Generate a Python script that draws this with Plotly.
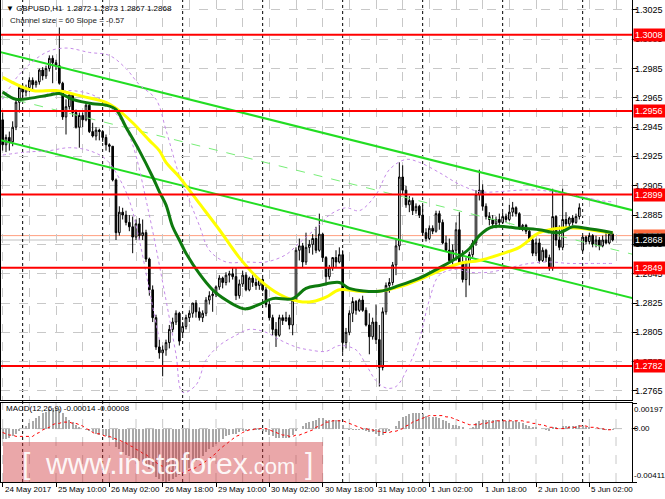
import plotly.graph_objects as go

# ---------------- data ----------------
opens = [1.2950,1.2933,1.2938,1.2935,1.2945,1.2962,1.2972,1.2969,1.2972,1.2977,1.2974,1.2976,1.2984,1.2980,1.2985,1.2992,1.2989,1.2987,1.2975,1.2952,
1.2959,1.2967,1.2955,1.2945,1.2953,1.2950,1.2960,1.2942,1.2939,1.2943,1.2942,1.2938,1.2933,1.2932,1.2909,1.2873,1.2887,1.2885,1.2880,1.2877,
1.2870,1.2879,1.2871,1.2873,1.2855,1.2834,1.2815,1.2795,1.2791,1.2793,1.2798,1.2807,1.2812,1.2818,1.2805,1.2809,1.2815,1.2818,1.2825,1.2819,
1.2815,1.2818,1.2827,1.2830,1.2831,1.2836,1.2842,1.2839,1.2844,1.2845,1.2843,1.2830,1.2838,1.2844,1.2834,1.2842,1.2839,1.2837,1.2841,1.2834,
1.2824,1.2815,1.2807,1.2803,1.2815,1.2813,1.2815,1.2810,1.2827,1.2861,1.2864,1.2853,1.2863,1.2865,1.2869,1.2861,1.2872,1.2856,1.2843,1.2849,
1.2856,1.2853,1.2858,1.2798,1.2805,1.2818,1.2826,1.2820,1.2827,1.2820,1.2810,1.2802,1.2812,1.2800,1.2781,1.2819,1.2837,1.2839,1.2851,1.2864,
1.2911,1.2902,1.2892,1.2895,1.2888,1.2891,1.2885,1.2873,1.2869,1.2876,1.2874,1.2886,1.2880,1.2866,1.2861,1.2854,1.2861,1.2875,1.2852,1.2841,
1.2853,1.2858,1.2866,1.2899,1.2902,1.2891,1.2884,1.2882,1.2879,1.2882,1.2880,1.2884,1.2882,1.2887,1.2890,1.2886,1.2876,1.2878,1.2874,1.2868,
1.2859,1.2866,1.2854,1.2861,1.2856,1.2849,1.2884,1.2868,1.2863,1.2882,1.2879,1.2883,1.2880,1.2884,1.2861,1.2870,1.2867,1.2871,1.2865,1.2868,
1.2864,1.2868,1.2866,1.2872]
highs = [1.2955,1.2940,1.2942,1.2949,1.2964,1.2974,1.2974,1.2974,1.2979,1.2979,1.2977,1.2985,1.2986,1.2987,1.2994,1.2994,1.2991,1.3013,1.2976,1.2964,
1.2968,1.2968,1.2957,1.2955,1.2955,1.2962,1.2961,1.2948,1.2945,1.2944,1.2943,1.2940,1.2934,1.2932,1.2910,1.2891,1.2890,1.2888,1.2885,1.2884,
1.2882,1.2883,1.2882,1.2875,1.2856,1.2837,1.2817,1.2800,1.2796,1.2800,1.2810,1.2815,1.2820,1.2819,1.2812,1.2817,1.2820,1.2825,1.2827,1.2822,
1.2820,1.2829,1.2833,1.2834,1.2837,1.2844,1.2843,1.2846,1.2847,1.2849,1.2849,1.2841,1.2847,1.2846,1.2843,1.2844,1.2842,1.2842,1.2842,1.2836,
1.2827,1.2817,1.2812,1.2817,1.2817,1.2819,1.2817,1.2828,1.2863,1.2869,1.2866,1.2873,1.2868,1.2872,1.2877,1.2886,1.2873,1.2857,1.2851,1.2856,
1.2861,1.2863,1.2861,1.2808,1.2820,1.2829,1.2827,1.2828,1.2830,1.2822,1.2818,1.2815,1.2824,1.2810,1.2822,1.2839,1.2842,1.2853,1.2868,1.2921,
1.2919,1.2905,1.2898,1.2897,1.2893,1.2892,1.2892,1.2876,1.2878,1.2878,1.2888,1.2888,1.2882,1.2871,1.2869,1.2865,1.2880,1.2887,1.2861,1.2856,
1.2860,1.2868,1.2902,1.2916,1.2906,1.2893,1.2887,1.2885,1.2884,1.2886,1.2887,1.2886,1.2892,1.2894,1.2891,1.2887,1.2879,1.2879,1.2876,1.2871,
1.2869,1.2869,1.2863,1.2862,1.2858,1.2903,1.2885,1.2878,1.2903,1.2887,1.2884,1.2885,1.2886,1.2893,1.2871,1.2871,1.2873,1.2872,1.2871,1.2870,
1.2871,1.2873,1.2873,1.2873]
lows = [1.2929,1.2928,1.2929,1.2932,1.2943,1.2955,1.2964,1.2966,1.2969,1.2970,1.2972,1.2974,1.2977,1.2978,1.2983,1.2975,1.2984,1.2974,1.2950,1.2940,
1.2957,1.2952,1.2944,1.2931,1.2945,1.2949,1.2941,1.2938,1.2936,1.2936,1.2935,1.2929,1.2928,1.2908,1.2868,1.2871,1.2882,1.2878,1.2874,1.2859,
1.2868,1.2868,1.2868,1.2853,1.2830,1.2812,1.2793,1.2787,1.2775,1.2789,1.2794,1.2805,1.2810,1.2796,1.2803,1.2807,1.2812,1.2815,1.2815,1.2813,
1.2812,1.2816,1.2824,1.2819,1.2829,1.2834,1.2835,1.2837,1.2839,1.2841,1.2827,1.2828,1.2836,1.2833,1.2833,1.2836,1.2834,1.2834,1.2833,1.2822,
1.2813,1.2803,1.2795,1.2802,1.2810,1.2812,1.2807,1.2803,1.2826,1.2854,1.2849,1.2851,1.2859,1.2858,1.2859,1.2860,1.2853,1.2837,1.2841,1.2847,
1.2849,1.2852,1.2791,1.2794,1.2803,1.2812,1.2817,1.2819,1.2819,1.2809,1.2790,1.2800,1.2797,1.2768,1.2779,1.2817,1.2832,1.2837,1.2844,1.2861,
1.2899,1.2890,1.2887,1.2885,1.2886,1.2883,1.2871,1.2867,1.2868,1.2872,1.2873,1.2875,1.2865,1.2860,1.2853,1.2851,1.2854,1.2851,1.2839,1.2829,
1.2837,1.2856,1.2864,1.2895,1.2888,1.2882,1.2878,1.2876,1.2876,1.2878,1.2879,1.2880,1.2881,1.2884,1.2884,1.2875,1.2874,1.2872,1.2867,1.2857,
1.2857,1.2852,1.2853,1.2853,1.2847,1.2847,1.2864,1.2861,1.2861,1.2876,1.2877,1.2878,1.2879,1.2882,1.2860,1.2865,1.2865,1.2863,1.2863,1.2861,
1.2863,1.2865,1.2865,1.2867]
closes = [1.2933,1.2938,1.2935,1.2945,1.2962,1.2972,1.2969,1.2972,1.2977,1.2974,1.2976,1.2984,1.2980,1.2985,1.2992,1.2989,1.2987,1.2975,1.2952,1.2959,
1.2967,1.2955,1.2945,1.2953,1.2950,1.2960,1.2942,1.2939,1.2943,1.2942,1.2938,1.2933,1.2932,1.2909,1.2873,1.2887,1.2885,1.2880,1.2877,1.2870,
1.2879,1.2871,1.2873,1.2855,1.2834,1.2815,1.2795,1.2791,1.2793,1.2798,1.2807,1.2812,1.2818,1.2799,1.2809,1.2815,1.2818,1.2825,1.2819,1.2815,
1.2818,1.2827,1.2830,1.2831,1.2836,1.2842,1.2839,1.2844,1.2845,1.2843,1.2830,1.2838,1.2844,1.2834,1.2842,1.2839,1.2837,1.2841,1.2834,1.2824,
1.2815,1.2807,1.2803,1.2815,1.2813,1.2815,1.2810,1.2827,1.2861,1.2864,1.2853,1.2863,1.2865,1.2869,1.2861,1.2872,1.2856,1.2843,1.2849,1.2856,
1.2853,1.2858,1.2798,1.2805,1.2818,1.2826,1.2820,1.2827,1.2820,1.2810,1.2802,1.2812,1.2800,1.2781,1.2819,1.2837,1.2839,1.2851,1.2864,1.2911,
1.2902,1.2892,1.2895,1.2888,1.2891,1.2885,1.2873,1.2869,1.2876,1.2874,1.2886,1.2880,1.2866,1.2861,1.2854,1.2861,1.2875,1.2852,1.2841,1.2853,
1.2858,1.2866,1.2899,1.2902,1.2891,1.2884,1.2882,1.2879,1.2882,1.2880,1.2884,1.2882,1.2887,1.2890,1.2886,1.2876,1.2878,1.2874,1.2868,1.2859,
1.2866,1.2854,1.2861,1.2856,1.2849,1.2884,1.2868,1.2863,1.2882,1.2879,1.2883,1.2880,1.2884,1.2890,1.2870,1.2867,1.2871,1.2865,1.2868,1.2864,
1.2868,1.2866,1.2872,1.2868]

# moving averages (bar index, price)
ma_yellow_idx = [0,9,16,24,31,34,39,44,47,49,53,56,59,65,71,77,83,89,93,97,101,107,113,119,125,131,137,143,149,155,161,167,173,179,183]
ma_yellow_val = [1.2979,1.2970,1.2970,1.2966,1.2962,1.2958,1.2948,1.2936,1.2929,1.2921,1.2911,1.2902,1.2893,1.2875,1.2856,1.2841,1.2831,1.2826,1.2826,1.2829,
1.2834,1.2833,1.2833,1.2836,1.2841,1.2847,1.2852,1.2854,1.2858,1.2863,1.2873,1.2876,1.2876,1.2874,1.2873]
ma_green_idx = [0,4,9,14,17,21,27,31,34,37,41,45,47,49,51,53,55,59,63,67,71,73,77,81,87,91,95,101,104,113,119,125,131,135,140,143,147,155,161,167,171,175,183]
ma_green_val = [1.2969,1.2964,1.2965,1.2967,1.2968,1.2964,1.2961,1.2960,1.2957,1.2945,1.2929,1.2911,1.2901,1.2892,1.2877,1.2868,1.2859,1.2845,1.2834,1.2827,
1.2822,1.2821,1.2824,1.2828,1.2828,1.2835,1.2837,1.2839,1.2835,1.2833,1.2837,1.2842,1.2849,1.2854,1.2862,1.2871,1.2877,1.2876,1.2875,1.2873,1.2877,1.2876,1.2873]

# purple dotted bands (bar index, price)
band_a_idx = [0,5,13,19,26,32,37,41,46,49,53,56,59,62,67,73,79,85,89,94,98,103,107,112,116,121,125,131,137,143,149,155,161,167,173,179,183]
band_a_val = [1.2964,1.2981,1.2996,1.2999,1.2996,1.2994,1.2985,1.2974,1.2964,1.2943,1.2912,1.2895,1.2878,1.2861,1.2853,1.2853,1.2853,1.2858,1.2866,1.2876,
1.2885,1.2890,1.2888,1.2899,1.2916,1.2923,1.2921,1.2914,1.2906,1.2901,1.2901,1.2902,1.2902,1.2900,1.2898,1.2895,1.2894]
band_b_idx = [11,19,27,32,36,39,44,49,52,54,58,61,65,70,74,79,83,88,92,97,101,106,109,112,115,118,122,125,128,131,136,140,146,152,158,164,170,176,183]
band_b_val = [1.2966,1.2970,1.2967,1.2959,1.2948,1.2933,1.2885,1.2827,1.2790,1.2764,1.2769,1.2786,1.2796,1.2803,1.2807,1.2805,1.2800,1.2795,1.2793,1.2792,
1.2796,1.2793,1.2783,1.2772,1.2767,1.2768,1.2783,1.2800,1.2827,1.2844,1.2848,1.2846,1.2846,1.2849,1.2852,1.2853,1.2852,1.2852,1.2852]
band_c_idx = [0,7,14,20,26,31,35,38,41,44,47]
band_c_val = [1.2926,1.2928,1.2929,1.2931,1.2929,1.2923,1.2910,1.2895,1.2868,1.2834,1.2800]

# MACD(12,26,9): histogram (main) and signal
macd_main = [-0.0008,-0.0008,-0.0007,-0.0006,-0.0004,-0.0002,0.0000,0.0002,0.0004,0.0006,0.0008,0.0010,0.0012,0.0013,0.0015,0.0016,0.0016,0.0015,0.0012,0.0009,
0.0007,0.0005,0.0003,0.0001,0.0000,-0.0001,-0.0002,-0.0003,-0.0004,-0.0005,-0.0005,-0.0006,-0.0007,-0.0009,-0.0014,-0.0016,-0.0018,-0.0020,-0.0021,-0.0023,
-0.0024,-0.0025,-0.0026,-0.0028,-0.0031,-0.0034,-0.0037,-0.0039,-0.0040,-0.0041,-0.0040,-0.0039,-0.0037,-0.0036,-0.0034,-0.0032,-0.0030,-0.0027,-0.0025,-0.0023,
-0.0021,-0.0018,-0.0016,-0.0014,-0.0012,-0.0010,-0.0008,-0.0006,-0.0005,-0.0004,-0.0004,-0.0003,-0.0002,-0.0002,-0.0001,-0.0001,-0.0001,-0.0001,-0.0002,-0.0003,
-0.0005,-0.0006,-0.0007,-0.0007,-0.0007,-0.0007,-0.0007,-0.0005,-0.0002,0.0000,0.0002,0.0004,0.0005,0.0006,0.0007,0.0008,0.0008,0.0007,0.0007,0.0007,
0.0007,0.0007,0.0003,0.0000,-0.0001,-0.0001,-0.0001,-0.0001,-0.0001,-0.0002,-0.0003,-0.0003,-0.0004,-0.0006,-0.0005,-0.0003,-0.0002,0.0000,0.0002,0.0006,
0.0009,0.0010,0.0011,0.0012,0.0012,0.0012,0.0011,0.0010,0.0009,0.0009,0.0009,0.0008,0.0007,0.0006,0.0004,0.0003,0.0003,0.0002,0.0001,0.0000,
0.0000,0.0001,0.0004,0.0006,0.0007,0.0007,0.0007,0.0007,0.0007,0.0006,0.0006,0.0006,0.0006,0.0006,0.0006,0.0005,0.0004,0.0003,0.0002,0.0001,
0.0001,0.0000,0.0000,-0.0001,-0.0002,0.0001,0.0001,0.0000,0.0002,0.0002,0.0002,0.0002,0.0002,0.0003,0.0002,0.0001,0.0001,0.0000,0.0000,0.0000,
-0.0001,-0.0001,-0.0001,-0.00014]
macd_signal = [-0.0003,-0.0004,-0.0005,-0.0005,-0.0006,-0.0006,-0.0006,-0.0006,-0.0006,-0.0006,-0.0004,-0.0003,-0.0001,0.0000,0.0001,0.0003,0.0004,0.0004,0.0005,0.0005,
0.0005,0.0004,0.0004,0.0003,0.0002,0.0000,-0.0001,-0.0003,-0.0004,-0.0004,-0.0005,-0.0006,-0.0006,-0.0007,-0.0008,-0.0009,-0.0010,-0.0011,-0.0013,-0.0014,
-0.0016,-0.0017,-0.0019,-0.0020,-0.0022,-0.0024,-0.0026,-0.0028,-0.0029,-0.0031,-0.0032,-0.0033,-0.0033,-0.0034,-0.0034,-0.0033,-0.0032,-0.0031,-0.0030,-0.0028,
-0.0027,-0.0025,-0.0023,-0.0021,-0.0019,-0.0016,-0.0014,-0.0012,-0.0010,-0.0008,-0.0006,-0.0005,-0.0003,-0.0002,-0.0001,-0.0001,0.0000,0.0000,0.0000,0.0000,
-0.0001,-0.0002,-0.0003,-0.0004,-0.0005,-0.0005,-0.0006,-0.0006,-0.0005,-0.0005,-0.0004,-0.0003,-0.0002,-0.0001,0.0001,0.0002,0.0003,0.0005,0.0005,0.0006,
0.0006,0.0006,0.0006,0.0005,0.0004,0.0003,0.0002,0.0001,0.0000,0.0000,-0.0001,-0.0001,-0.0002,-0.0002,-0.0003,-0.0003,-0.0003,-0.0002,-0.0002,-0.0001,
0.0000,0.0002,0.0003,0.0005,0.0006,0.0007,0.0008,0.0009,0.0010,0.0010,0.0010,0.0010,0.0010,0.0009,0.0009,0.0008,0.0007,0.0006,0.0005,0.0004,
0.0003,0.0003,0.0003,0.0003,0.0004,0.0004,0.0005,0.0005,0.0006,0.0006,0.0006,0.0006,0.0006,0.0006,0.0006,0.0006,0.0006,0.0005,0.0005,0.0004,
0.0004,0.0003,0.0003,0.0002,0.0001,0.0001,0.0000,0.0000,0.0000,0.0000,0.0001,0.0001,0.0001,0.0002,0.0002,0.0002,0.0001,0.0001,0.0001,0.0000,
0.0000,-0.0001,-0.0001,-0.00008]

# linear regression channel: mid price at bar 0, slope per bar, half width
channel_mid0 = 1.29658
channel_slope = -0.0000569
channel_half = 0.0030
channel_ends = [-1, 190]

levels_red = [1.3008, 1.2956, 1.2899, 1.2849, 1.2782]
ask_level = 1.2871
bid_level = 1.2868
price_ticks = [1.2765, 1.2785, 1.2805, 1.2825, 1.2845, 1.2865, 1.2885, 1.2905, 1.2925, 1.2945, 1.2965, 1.2985, 1.3005, 1.3025]
time_label_idx = [0, 16, 32, 48, 64, 80, 96, 112, 128, 144, 160, 176]
time_labels = ["24 May 2017", "25 May 10:00", "26 May 02:00", "26 May 18:00", "29 May 10:00", "30 May 02:00",
               "30 May 18:00", "31 May 10:00", "1 Jun 02:00", "1 Jun 18:00", "2 Jun 10:00", "5 Jun 02:00"]
day_sep_idx = [6, 30, 54, 78, 102, 126, 150, 174]
macd_range = [-0.00411, 0.00197]
price_range = [1.27588, 1.30318]

n = len(closes)
bars = list(range(n))
FONT = "Liberation Sans"

fig = go.Figure()

fig.add_trace(go.Candlestick(
    x=bars, open=opens, high=highs, low=lows, close=closes,
    increasing=dict(line=dict(color="#000000", width=1), fillcolor="#FFFFFF"),
    decreasing=dict(line=dict(color="#000000", width=1), fillcolor="#000000"),
    whiskerwidth=0, showlegend=False, hoverinfo="skip", xaxis="x", yaxis="y"))

# channel
for off, dash, col, w in [(channel_half, "solid", "#22DD22", 2), (-channel_half, "solid", "#22DD22", 2), (0, "dash", "#77EE77", 1)]:
    fig.add_trace(go.Scatter(
        x=channel_ends,
        y=[channel_mid0 + channel_slope * e + off for e in channel_ends],
        mode="lines", line=dict(color=col, width=w, dash=dash),
        showlegend=False, hoverinfo="skip", xaxis="x", yaxis="y"))

# purple bands
for bi, bv in [(band_a_idx, band_a_val), (band_b_idx, band_b_val), (band_c_idx, band_c_val)]:
    fig.add_trace(go.Scatter(x=bi, y=bv, mode="lines",
                             line=dict(color="#C58BE8", width=1, dash="dot", shape="spline", smoothing=1.0),
                             showlegend=False, hoverinfo="skip", xaxis="x", yaxis="y"))

# MAs
fig.add_trace(go.Scatter(x=ma_yellow_idx, y=ma_yellow_val, mode="lines",
                         line=dict(color="#FFFF00", width=3, shape="spline", smoothing=1.0),
                         showlegend=False, hoverinfo="skip", xaxis="x", yaxis="y"))
fig.add_trace(go.Scatter(x=ma_green_idx, y=ma_green_val, mode="lines",
                         line=dict(color="#0E7A0E", width=3, shape="spline", smoothing=1.0),
                         showlegend=False, hoverinfo="skip", xaxis="x", yaxis="y"))

# MACD
fig.add_trace(go.Bar(x=bars, y=macd_main, width=0.55, marker=dict(color="#A9A9A9", line=dict(width=0)),
                     showlegend=False, hoverinfo="skip", xaxis="x2", yaxis="y2"))
fig.add_trace(go.Scatter(x=bars, y=macd_signal, mode="lines", line=dict(color="#FF0000", width=1, dash="dot"),
                         showlegend=False, hoverinfo="skip", xaxis="x2", yaxis="y2"))

shapes = []
for lv in levels_red:
    shapes.append(dict(type="line", xref="paper", x0=0, x1=1, yref="y", y0=lv, y1=lv,
                       line=dict(color="#FF0000", width=2), layer="above"))
shapes.append(dict(type="line", xref="paper", x0=0, x1=1, yref="y", y0=ask_level, y1=ask_level,
                   line=dict(color="#FF9F7F", width=1), layer="below"))
shapes.append(dict(type="line", xref="paper", x0=0, x1=1, yref="y", y0=bid_level, y1=bid_level,
                   line=dict(color="#C0C0C0", width=1), layer="below"))
for d in day_sep_idx:
    shapes.append(dict(type="line", xref="x", x0=d, x1=d, yref="paper", y0=0, y1=1,
                       line=dict(color="#000000", width=1, dash="dot"), layer="below"))
shapes.append(dict(type="line", xref="paper", x0=0, x1=1, yref="y2", y0=0, y1=0,
                   line=dict(color="#C0C0C0", width=1, dash="dash"), layer="below"))
# watermark box
shapes.append(dict(type="rect", xref="paper", yref="paper", x0=0.0032, x1=0.5103, y0=0.0, y1=0.083,
                   fillcolor="rgba(205,45,50,0.42)", line=dict(width=0), layer="above"))

ann = []
ann.append(dict(text="\u25BC GBPUSD,H1  1.2872 1.2873 1.2867 1.2868", xref="paper", yref="paper",
                x=0.0048, y=0.9834, xanchor="left", yanchor="middle", showarrow=False,
                font=dict(family=FONT, size=8, color="#000000")))
ann.append(dict(text="Channel size = 60 Slope = -0.57", xref="paper", yref="paper",
                x=0.0111, y=0.9585, xanchor="left", yanchor="middle", showarrow=False,
                font=dict(family=FONT, size=8, color="#1A1A1A")))
ann.append(dict(text="MACD(12,26,9) -0.00014 -0.00008", xref="paper", yref="paper",
                x=0.0048, y=0.1515, xanchor="left", yanchor="middle", showarrow=False,
                font=dict(family=FONT, size=8, color="#000000")))
for ti, tl in zip(time_label_idx, time_labels):
    ann.append(dict(text=tl, xref="x2", yref="paper", x=ti, y=0, xanchor="left", yanchor="top",
                    xshift=0, yshift=-1, showarrow=False, font=dict(family=FONT, size=8, color="#000000")))
# price scale labels
for p in price_ticks:
    ann.append(dict(text=f"{p:.4f}", xref="paper", yref="y", x=1, y=p, xanchor="left", yanchor="middle",
                    xshift=1, showarrow=False, font=dict(family=FONT, size=9, color="#000000")))
for lv in levels_red:
    ann.append(dict(text=f"{lv:.4f}", xref="paper", yref="y", x=1, y=lv, xanchor="left", yanchor="middle",
                    xshift=1, showarrow=False, bgcolor="#FF0000", borderpad=1, width=29, align="left",
                    font=dict(family=FONT, size=9, color="#FFFFFF")))
ann.append(dict(text=f"{ask_level:.4f}", xref="paper", yref="y", x=1, y=ask_level, xanchor="left", yanchor="middle",
                xshift=1, showarrow=False, bgcolor="#FF6A3D", borderpad=1, width=29, align="left",
                font=dict(family=FONT, size=9, color="#FFFFFF")))
ann.append(dict(text=f"{bid_level:.4f}", xref="paper", yref="y", x=1, y=bid_level, xanchor="left", yanchor="middle",
                xshift=1, showarrow=False, bgcolor="#000000", borderpad=1, width=29, align="left",
                font=dict(family=FONT, size=9, color="#FFFFFF")))
for v, txt, ya in [(macd_range[1], "0.00197", "top"), (0, "0.00", "middle"), (macd_range[0], "-0.00411", "bottom")]:
    ann.append(dict(text=txt, xref="paper", yref="y2", x=1, y=v, xanchor="left", yanchor=ya,
                    xshift=0, showarrow=False, font=dict(family=FONT, size=8, color="#000000")))
# watermark text
ann.append(dict(text="[", xref="paper", yref="paper", x=0.030, y=0.0, xanchor="left", yanchor="bottom",
                showarrow=False, font=dict(family=FONT, size=30, color="rgba(255,255,255,0.92)")))
ann.append(dict(text="www.instaforex<span style='font-size:22px'>.com</span>", xref="paper", yref="paper",
                x=0.066, y=0.0, xanchor="left", yanchor="bottom",
                showarrow=False, font=dict(family=FONT, size=30, color="rgba(255,255,255,0.92)")))
ann.append(dict(text="]", xref="paper", yref="paper", x=0.478, y=0.0, xanchor="left", yanchor="bottom",
                showarrow=False, font=dict(family=FONT, size=30, color="rgba(255,255,255,0.92)")))

xr = [-0.5, 188.8]
grid_col = "#C8C8C8"
fig.update_layout(
    width=665, height=499, margin=dict(l=1, r=33, t=0, b=17),
    paper_bgcolor="#FFFFFF", plot_bgcolor="#FFFFFF",
    font=dict(family=FONT, size=9, color="#000000"),
    showlegend=False, bargap=0,
    xaxis=dict(domain=[0, 1], range=xr, anchor="y", showticklabels=False, ticks="",
               showgrid=True, gridcolor=grid_col, griddash="dash", gridwidth=1, tick0=0, dtick=8,
               showline=True, linecolor="#000000", linewidth=1, mirror=False, zeroline=False,
               rangeslider=dict(visible=False), fixedrange=True),
    yaxis=dict(domain=[0.17012, 1], range=price_range, side="right", anchor="x",
               tickvals=price_ticks, showticklabels=False,
               ticks="outside", ticklen=4, tickcolor="#000000",
               showgrid=True, gridcolor=grid_col, griddash="dash", gridwidth=1,
               showline=True, linecolor="#000000", linewidth=1, mirror=True, zeroline=False),
    xaxis2=dict(domain=[0, 1], range=xr, anchor="y2", matches="x", showticklabels=False,
                tickvals=time_label_idx, ticks="outside", ticklen=4, tickcolor="#000000",
                showgrid=False, showline=True, linecolor="#000000", linewidth=1, mirror=True, zeroline=False),
    yaxis2=dict(domain=[0, 0.1639], range=macd_range, side="right", anchor="x2",
                tickvals=[macd_range[0], 0, macd_range[1]], showticklabels=False,
                ticks="outside", ticklen=4, tickcolor="#000000",
                showgrid=False, showline=True, linecolor="#000000", linewidth=1, mirror=True, zeroline=False),
    shapes=shapes, annotations=ann,
)
# light vertical grid in MACD panel (every 8 bars)
for gi in range(0, 189, 8):
    fig.add_shape(type="line", xref="x2", x0=gi, x1=gi, yref="y2", y0=macd_range[0], y1=macd_range[1],
                  line=dict(color=grid_col, width=1, dash="dash"), layer="below")

fig.write_html("out.html", config={"displayModeBar": False, "staticPlot": True},
               post_script="document.body.style.margin='0px';document.body.style.padding='0px';")
